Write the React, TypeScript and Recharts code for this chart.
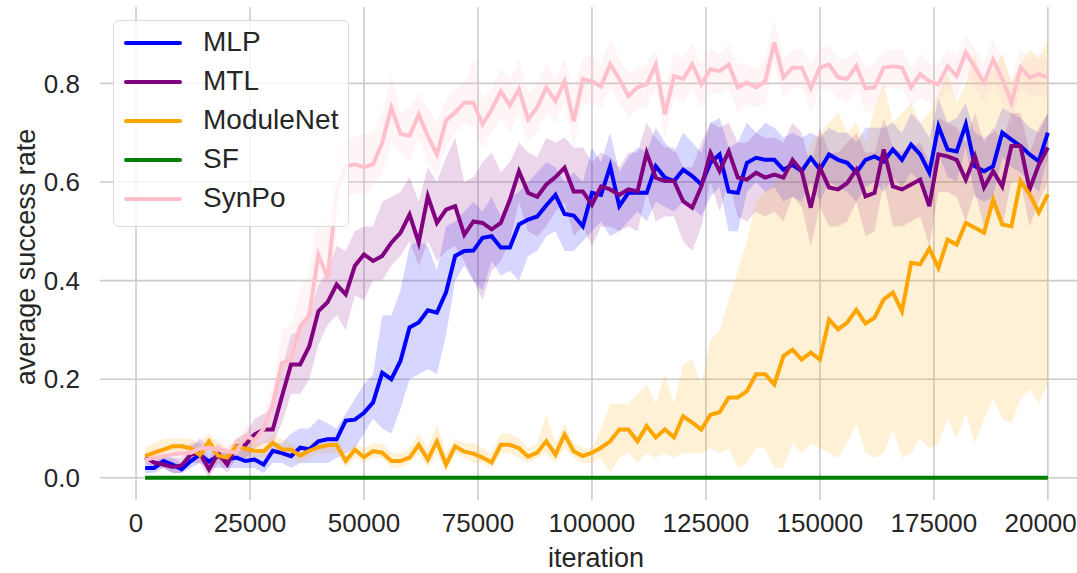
import React from 'react';
import { ComposedChart, Line, Area, XAxis, YAxis, CartesianGrid, Label } from 'recharts';

const ITERATIONS = [
  2000, 4000, 6000, 8000, 10000, 12000, 14000, 16000, 18000, 20000,
  22000, 24000, 26000, 28000, 30000, 32000, 34000, 36000, 38000, 40000,
  42000, 44000, 46000, 48000, 50000, 52000, 54000, 56000, 58000, 60000,
  62000, 64000, 66000, 68000, 70000, 72000, 74000, 76000, 78000, 80000,
  82000, 84000, 86000, 88000, 90000, 92000, 94000, 96000, 98000, 100000,
  102000, 104000, 106000, 108000, 110000, 112000, 114000, 116000, 118000, 120000,
  122000, 124000, 126000, 128000, 130000, 132000, 134000, 136000, 138000, 140000,
  142000, 144000, 146000, 148000, 150000, 152000, 154000, 156000, 158000, 160000,
  162000, 164000, 166000, 168000, 170000, 172000, 174000, 176000, 178000, 180000,
  182000, 184000, 186000, 188000, 190000, 192000, 194000, 196000, 198000, 200000,
];

const X_TICKS = [0, 25000, 50000, 75000, 100000, 125000, 150000, 175000, 200000];
const Y_TICKS = [0, 0.2, 0.4, 0.6, 0.8];

const MLP_MEAN = [
  0.020, 0.020, 0.034, 0.027, 0.017, 0.034, 0.047, 0.033, 0.044, 0.037,
  0.041, 0.034, 0.037, 0.027, 0.055, 0.050, 0.044, 0.061, 0.058, 0.074,
  0.078, 0.078, 0.116, 0.118, 0.132, 0.153, 0.213, 0.200, 0.237, 0.305,
  0.315, 0.340, 0.335, 0.376, 0.450, 0.460, 0.461, 0.487, 0.490, 0.467,
  0.467, 0.514, 0.524, 0.530, 0.553, 0.574, 0.535, 0.532, 0.510, 0.578,
  0.574, 0.632, 0.551, 0.578, 0.578, 0.578, 0.632, 0.609, 0.602, 0.625,
  0.612, 0.595, 0.639, 0.656, 0.581, 0.578, 0.639, 0.649, 0.645, 0.645,
  0.625, 0.635, 0.622, 0.649, 0.625, 0.656, 0.645, 0.639, 0.619, 0.645,
  0.652, 0.642, 0.666, 0.645, 0.676, 0.656, 0.619, 0.713, 0.666, 0.662,
  0.717, 0.632, 0.622, 0.632, 0.700, 0.686, 0.673, 0.656, 0.642, 0.700,
];
const MLP_HI = [
  0.03, 0.03, 0.05, 0.04, 0.03, 0.06, 0.08, 0.06, 0.06, 0.05,
  0.06, 0.07, 0.05, 0.05, 0.07, 0.07, 0.09, 0.10, 0.10, 0.12,
  0.11, 0.10, 0.13, 0.16, 0.19, 0.21, 0.33, 0.33, 0.38, 0.47,
  0.48, 0.47, 0.42, 0.51, 0.52, 0.54, 0.56, 0.54, 0.57, 0.53,
  0.57, 0.58, 0.60, 0.62, 0.64, 0.63, 0.60, 0.62, 0.60, 0.67,
  0.64, 0.70, 0.62, 0.65, 0.67, 0.66, 0.71, 0.68, 0.66, 0.70,
  0.68, 0.66, 0.72, 0.73, 0.67, 0.68, 0.72, 0.70, 0.72, 0.71,
  0.69, 0.70, 0.69, 0.70, 0.69, 0.71, 0.70, 0.70, 0.68, 0.71,
  0.71, 0.71, 0.72, 0.70, 0.74, 0.72, 0.69, 0.77, 0.72, 0.73,
  0.76, 0.70, 0.69, 0.70, 0.75, 0.74, 0.73, 0.71, 0.70, 0.74,
];
const MLP_LO = [
  0.01, 0.01, 0.02, 0.01, 0.01, 0.02, 0.03, 0.02, 0.02, 0.02,
  0.02, 0.02, 0.02, 0.01, 0.03, 0.03, 0.02, 0.03, 0.03, 0.03,
  0.03, 0.04, 0.05, 0.06, 0.09, 0.12, 0.10, 0.09, 0.14, 0.20,
  0.21, 0.22, 0.21, 0.29, 0.40, 0.43, 0.40, 0.38, 0.44, 0.41,
  0.42, 0.40, 0.45, 0.46, 0.49, 0.50, 0.46, 0.46, 0.48, 0.50,
  0.52, 0.49, 0.50, 0.52, 0.54, 0.52, 0.56, 0.55, 0.54, 0.56,
  0.55, 0.53, 0.57, 0.59, 0.50, 0.50, 0.58, 0.60, 0.58, 0.59,
  0.56, 0.57, 0.56, 0.60, 0.56, 0.60, 0.59, 0.58, 0.56, 0.59,
  0.60, 0.58, 0.61, 0.59, 0.62, 0.60, 0.55, 0.66, 0.61, 0.60,
  0.67, 0.57, 0.56, 0.57, 0.65, 0.63, 0.62, 0.60, 0.58, 0.65,
];

const MTL_MEAN = [
  0.041, 0.031, 0.027, 0.022, 0.025, 0.047, 0.050, 0.017, 0.050, 0.027,
  0.064, 0.067, 0.088, 0.098, 0.098, 0.165, 0.230, 0.230, 0.267, 0.338,
  0.356, 0.392, 0.372, 0.430, 0.453, 0.440, 0.450, 0.477, 0.497, 0.534,
  0.477, 0.571, 0.517, 0.544, 0.551, 0.493, 0.520, 0.517, 0.504, 0.517,
  0.564, 0.622, 0.578, 0.570, 0.595, 0.610, 0.629, 0.581, 0.581, 0.554,
  0.591, 0.585, 0.574, 0.585, 0.581, 0.659, 0.609, 0.602, 0.602, 0.561,
  0.548, 0.591, 0.659, 0.622, 0.662, 0.609, 0.605, 0.619, 0.609, 0.615,
  0.609, 0.645, 0.622, 0.548, 0.629, 0.589, 0.585, 0.598, 0.625, 0.571,
  0.578, 0.666, 0.591, 0.585, 0.595, 0.605, 0.551, 0.656, 0.652, 0.645,
  0.605, 0.652, 0.589, 0.622, 0.591, 0.673, 0.673, 0.585, 0.635, 0.670,
];
const MTL_HI = [
  0.05, 0.04, 0.04, 0.04, 0.04, 0.07, 0.07, 0.04, 0.07, 0.05,
  0.08, 0.09, 0.12, 0.13, 0.14, 0.22, 0.29, 0.30, 0.33, 0.39,
  0.42, 0.47, 0.46, 0.50, 0.51, 0.51, 0.56, 0.57, 0.58, 0.61,
  0.56, 0.63, 0.60, 0.65, 0.69, 0.60, 0.61, 0.64, 0.66, 0.62,
  0.64, 0.68, 0.66, 0.65, 0.69, 0.68, 0.69, 0.67, 0.67, 0.64,
  0.66, 0.65, 0.63, 0.66, 0.66, 0.72, 0.69, 0.67, 0.67, 0.63,
  0.63, 0.68, 0.72, 0.71, 0.72, 0.68, 0.68, 0.70, 0.69, 0.69,
  0.68, 0.72, 0.70, 0.63, 0.71, 0.66, 0.66, 0.68, 0.70, 0.66,
  0.66, 0.73, 0.67, 0.66, 0.67, 0.68, 0.64, 0.73, 0.72, 0.71,
  0.68, 0.74, 0.68, 0.71, 0.68, 0.74, 0.74, 0.66, 0.71, 0.74,
];
const MTL_LO = [
  0.03, 0.02, 0.02, 0.01, 0.01, 0.03, 0.03, 0.00, 0.03, 0.01,
  0.04, 0.04, 0.06, 0.07, 0.07, 0.11, 0.17, 0.17, 0.20, 0.27,
  0.31, 0.33, 0.30, 0.37, 0.36, 0.40, 0.40, 0.43, 0.45, 0.48,
  0.43, 0.48, 0.44, 0.46, 0.47, 0.44, 0.40, 0.36, 0.42, 0.44,
  0.48, 0.56, 0.50, 0.49, 0.51, 0.54, 0.56, 0.49, 0.51, 0.47,
  0.51, 0.51, 0.50, 0.51, 0.50, 0.58, 0.52, 0.53, 0.53, 0.48,
  0.46, 0.51, 0.60, 0.54, 0.60, 0.53, 0.52, 0.54, 0.53, 0.54,
  0.52, 0.57, 0.55, 0.47, 0.55, 0.51, 0.51, 0.52, 0.56, 0.49,
  0.50, 0.60, 0.51, 0.51, 0.52, 0.53, 0.47, 0.58, 0.58, 0.57,
  0.52, 0.58, 0.51, 0.55, 0.51, 0.60, 0.60, 0.51, 0.56, 0.60,
];

const MODNET_MEAN = [
  0.044, 0.051, 0.057, 0.064, 0.064, 0.060, 0.046, 0.074, 0.045, 0.041,
  0.064, 0.059, 0.055, 0.054, 0.071, 0.058, 0.057, 0.045, 0.055, 0.062,
  0.066, 0.067, 0.034, 0.057, 0.042, 0.054, 0.051, 0.034, 0.034, 0.041,
  0.067, 0.037, 0.074, 0.027, 0.064, 0.053, 0.049, 0.041, 0.031, 0.067,
  0.067, 0.060, 0.043, 0.051, 0.074, 0.047, 0.088, 0.054, 0.044, 0.051,
  0.061, 0.074, 0.098, 0.098, 0.074, 0.105, 0.082, 0.098, 0.082, 0.125,
  0.112, 0.098, 0.128, 0.133, 0.163, 0.163, 0.176, 0.210, 0.210, 0.189,
  0.247, 0.260, 0.240, 0.254, 0.240, 0.321, 0.301, 0.315, 0.341, 0.313,
  0.325, 0.362, 0.376, 0.338, 0.436, 0.433, 0.465, 0.426, 0.483, 0.473,
  0.517, 0.507, 0.497, 0.564, 0.514, 0.510, 0.602, 0.575, 0.538, 0.575,
];
const MODNET_HI = [
  0.06, 0.07, 0.08, 0.08, 0.08, 0.08, 0.07, 0.09, 0.07, 0.06,
  0.08, 0.08, 0.07, 0.07, 0.09, 0.08, 0.07, 0.06, 0.07, 0.08,
  0.08, 0.08, 0.05, 0.07, 0.06, 0.07, 0.07, 0.05, 0.05, 0.06,
  0.09, 0.06, 0.11, 0.05, 0.08, 0.07, 0.07, 0.06, 0.05, 0.09,
  0.09, 0.08, 0.06, 0.07, 0.13, 0.07, 0.11, 0.07, 0.06, 0.06,
  0.10, 0.15, 0.15, 0.15, 0.17, 0.19, 0.15, 0.21, 0.15, 0.23,
  0.24, 0.19, 0.28, 0.30, 0.36, 0.42, 0.48, 0.56, 0.58, 0.60,
  0.62, 0.65, 0.62, 0.68, 0.70, 0.72, 0.74, 0.70, 0.72, 0.68,
  0.75, 0.80, 0.72, 0.74, 0.76, 0.72, 0.74, 0.78, 0.82, 0.76,
  0.80, 0.86, 0.80, 0.83, 0.86, 0.80, 0.84, 0.87, 0.85, 0.89,
];
const MODNET_LO = [
  0.03, 0.04, 0.04, 0.05, 0.05, 0.04, 0.03, 0.06, 0.03, 0.03,
  0.05, 0.04, 0.04, 0.04, 0.05, 0.04, 0.04, 0.03, 0.04, 0.05,
  0.05, 0.05, 0.02, 0.04, 0.03, 0.04, 0.04, 0.02, 0.02, 0.03,
  0.05, 0.02, 0.05, 0.01, 0.05, 0.04, 0.03, 0.03, 0.02, 0.05,
  0.05, 0.04, 0.03, 0.04, 0.05, 0.03, 0.06, 0.04, 0.03, 0.03,
  0.04, 0.01, 0.04, 0.05, 0.03, 0.05, 0.04, 0.05, 0.04, 0.05,
  0.05, 0.05, 0.06, 0.05, 0.06, 0.02, 0.03, 0.06, 0.06, 0.02,
  0.02, 0.07, 0.05, 0.07, 0.06, 0.05, 0.04, 0.07, 0.11, 0.05,
  0.04, 0.05, 0.10, 0.04, 0.05, 0.08, 0.06, 0.07, 0.12, 0.08,
  0.13, 0.07, 0.12, 0.16, 0.12, 0.11, 0.16, 0.18, 0.15, 0.19,
];

const SF_MEAN = [
  0, 0, 0, 0, 0, 0, 0, 0, 0, 0, 0, 0, 0, 0, 0, 0, 0, 0, 0, 0,
  0, 0, 0, 0, 0, 0, 0, 0, 0, 0, 0, 0, 0, 0, 0, 0, 0, 0, 0, 0,
  0, 0, 0, 0, 0, 0, 0, 0, 0, 0, 0, 0, 0, 0, 0, 0, 0, 0, 0, 0,
  0, 0, 0, 0, 0, 0, 0, 0, 0, 0, 0, 0, 0, 0, 0, 0, 0, 0, 0, 0,
  0, 0, 0, 0, 0, 0, 0, 0, 0, 0, 0, 0, 0, 0, 0, 0, 0, 0, 0, 0,
];

const SYNPO_MEAN = [
  0.036, 0.041, 0.044, 0.047, 0.050, 0.051, 0.059, 0.061, 0.057, 0.054,
  0.051, 0.086, 0.076, 0.100, 0.150, 0.233, 0.240, 0.307, 0.330, 0.453,
  0.405, 0.580, 0.632, 0.636, 0.630, 0.636, 0.680, 0.751, 0.698, 0.694,
  0.737, 0.693, 0.656, 0.725, 0.741, 0.761, 0.761, 0.717, 0.747, 0.784,
  0.755, 0.788, 0.727, 0.751, 0.792, 0.764, 0.804, 0.723, 0.809, 0.804,
  0.794, 0.839, 0.809, 0.774, 0.792, 0.798, 0.838, 0.737, 0.815, 0.809,
  0.839, 0.798, 0.829, 0.825, 0.838, 0.792, 0.802, 0.792, 0.804, 0.883,
  0.812, 0.832, 0.832, 0.790, 0.832, 0.838, 0.812, 0.809, 0.835, 0.790,
  0.792, 0.832, 0.835, 0.832, 0.792, 0.819, 0.804, 0.798, 0.835, 0.815,
  0.863, 0.832, 0.802, 0.848, 0.809, 0.761, 0.832, 0.812, 0.819, 0.812,
];
const SYNPO_HI = [
  0.05, 0.06, 0.06, 0.07, 0.07, 0.07, 0.08, 0.08, 0.08, 0.07,
  0.07, 0.11, 0.10, 0.13, 0.19, 0.30, 0.31, 0.38, 0.42, 0.55,
  0.52, 0.66, 0.69, 0.69, 0.70, 0.70, 0.74, 0.82, 0.74, 0.75,
  0.78, 0.75, 0.72, 0.77, 0.79, 0.80, 0.85, 0.77, 0.79, 0.83,
  0.81, 0.85, 0.78, 0.80, 0.84, 0.81, 0.85, 0.79, 0.85, 0.86,
  0.84, 0.89, 0.85, 0.82, 0.83, 0.84, 0.87, 0.79, 0.86, 0.85,
  0.88, 0.84, 0.87, 0.86, 0.88, 0.84, 0.84, 0.83, 0.85, 0.93,
  0.85, 0.87, 0.87, 0.84, 0.87, 0.88, 0.85, 0.85, 0.87, 0.83,
  0.84, 0.87, 0.87, 0.87, 0.83, 0.86, 0.84, 0.84, 0.87, 0.86,
  0.90, 0.87, 0.84, 0.89, 0.85, 0.81, 0.87, 0.85, 0.86, 0.85,
];
const SYNPO_LO = [
  0.02, 0.03, 0.03, 0.03, 0.03, 0.04, 0.04, 0.04, 0.04, 0.04,
  0.04, 0.06, 0.05, 0.07, 0.11, 0.17, 0.18, 0.24, 0.25, 0.36,
  0.30, 0.50, 0.56, 0.58, 0.57, 0.59, 0.62, 0.68, 0.66, 0.64,
  0.69, 0.64, 0.61, 0.67, 0.70, 0.72, 0.71, 0.67, 0.70, 0.73,
  0.70, 0.74, 0.68, 0.70, 0.74, 0.72, 0.76, 0.67, 0.76, 0.76,
  0.75, 0.79, 0.76, 0.73, 0.75, 0.75, 0.79, 0.69, 0.77, 0.76,
  0.79, 0.75, 0.78, 0.78, 0.79, 0.74, 0.76, 0.75, 0.76, 0.84,
  0.77, 0.79, 0.79, 0.74, 0.79, 0.79, 0.77, 0.76, 0.79, 0.74,
  0.75, 0.79, 0.79, 0.79, 0.75, 0.77, 0.76, 0.76, 0.79, 0.77,
  0.82, 0.79, 0.76, 0.80, 0.76, 0.71, 0.79, 0.77, 0.78, 0.77,
];

const SERIES = [
  { key: 'mlp', name: 'MLP', color: '#0000ff', mean: MLP_MEAN, lo: MLP_LO, hi: MLP_HI },
  { key: 'mtl', name: 'MTL', color: '#800080', mean: MTL_MEAN, lo: MTL_LO, hi: MTL_HI },
  { key: 'modnet', name: 'ModuleNet', color: '#ffa500', mean: MODNET_MEAN, lo: MODNET_LO, hi: MODNET_HI },
  { key: 'sf', name: 'SF', color: '#008000', mean: SF_MEAN, lo: null, hi: null },
  { key: 'synpo', name: 'SynPo', color: '#ffc0cb', mean: SYNPO_MEAN, lo: SYNPO_LO, hi: SYNPO_HI },
];

const data = ITERATIONS.map((it, i) => {
  const row: any = { iteration: it };
  SERIES.forEach((s) => {
    row[s.key] = s.mean[i];
    if (s.lo && s.hi) row[s.key + 'Band'] = [s.lo[i], s.hi[i]];
  });
  return row;
});

const FONT = '"Liberation Sans", Arial, "DejaVu Sans", sans-serif';
const TEXT = '#262626';

const applyScale = (axis: any, v: number) => {
  const sc = axis && axis.scale;
  if (!sc) return null;
  if (typeof sc === 'function') return sc(v);
  if (typeof sc.map === 'function') return sc.map(v);
  return null;
};

export default function App() {
  return (
    <div style={{ position: 'absolute', left: 0, top: 0, width: 1077, height: 573, overflow: 'hidden', background: '#fff' }}>
      <ComposedChart
        width={1100}
        height={573}
        data={data}
        margin={{ top: 7, right: 7, bottom: 0, left: 0 }}
      >
        <CartesianGrid
          stroke="#cccccc"
          strokeWidth={1.6}
          horizontalCoordinatesGenerator={(props: any) =>
            Y_TICKS.map((t) => applyScale(props.yAxis, t)).filter((v) => v != null) as number[]
          }
          verticalCoordinatesGenerator={(props: any) =>
            X_TICKS.map((t) => applyScale(props.xAxis, t)).filter((v) => v != null) as number[]
          }
        />
        <XAxis
          dataKey="iteration"
          type="number"
          domain={[-7900, 209900]}
          ticks={X_TICKS}
          allowDataOverflow
          axisLine={false}
          tickLine={false}
          tickSize={0}
          tickMargin={14}
          height={73}
          tick={{ fill: TEXT, fontSize: 26, fontFamily: FONT }}
          interval={0}
        >
          <Label
            content={() => (
              <text x={596} y={567} textAnchor="middle" fill={TEXT} fontSize={27} fontFamily={FONT}>
                iteration
              </text>
            )}
          />
        </XAxis>
        <YAxis
          type="number"
          domain={[-0.045, 0.955]}
          ticks={Y_TICKS}
          allowDataOverflow
          axisLine={false}
          tickLine={false}
          tickSize={0}
          tickMargin={20}
          width={100}
          tickFormatter={(v: number) => v.toFixed(1)}
          tick={{ fill: TEXT, fontSize: 26, fontFamily: FONT }}
          interval={0}
        >
          <Label
            content={() => (
              <text
                x={26}
                y={257}
                transform="rotate(-90 26 257)"
                textAnchor="middle"
                dominantBaseline="central"
                fill={TEXT}
                fontSize={27}
                fontFamily={FONT}
              >
                average success rate
              </text>
            )}
          />
        </YAxis>
        {SERIES.map((s) => [
          s.lo ? (
            <Area
              key={s.key + 'Band'}
              dataKey={s.key + 'Band'}
              type="linear"
              stroke="none"
              fill={s.color}
              fillOpacity={0.16}
              isAnimationActive={false}
              legendType="none"
              dot={false}
              activeDot={false}
            />
          ) : null,
          <Line
            key={s.key}
            dataKey={s.key}
            name={s.name}
            type="linear"
            stroke={s.color}
            strokeWidth={4}
            dot={false}
            activeDot={false}
            isAnimationActive={false}
          />,
        ])}
      </ComposedChart>
      <div
        style={{
          position: 'absolute',
          left: 113,
          top: 20,
          width: 234,
          height: 205,
          border: '1px solid #dcdcdc',
          borderRadius: 6,
          background: 'rgba(255,255,255,0.8)',
          fontFamily: FONT,
          color: TEXT,
        }}
      >
        {SERIES.map((s, i) => (
          <div key={s.key} style={{ position: 'absolute', left: 0, top: 2 + i * 39, height: 40, width: 234 }}>
            <div
              style={{
                position: 'absolute',
                left: 10,
                top: 18,
                width: 58,
                height: 4,
                borderRadius: 2,
                background: s.color,
              }}
            />
            <div style={{ position: 'absolute', left: 89, top: 3, fontSize: 28, lineHeight: '32px', whiteSpace: 'nowrap' }}>
              {s.name}
            </div>
          </div>
        ))}
      </div>
    </div>
  );
}
